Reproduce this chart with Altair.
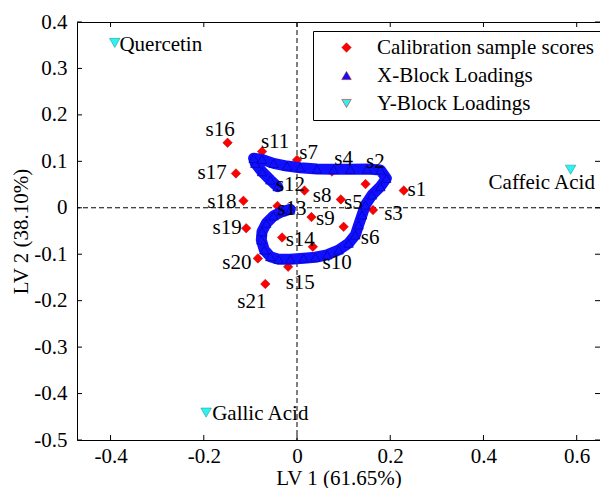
import altair as alt
import pandas as pd

# ---------------- data ----------------
sample_names = [f"s{i}" for i in range(1, 22)]
score_lv1 = [0.229, 0.147, 0.163, 0.075, 0.094, 0.100, 0.000, 0.016, 0.031, 0.034,
             -0.075, -0.042, -0.042, -0.032, -0.019, -0.149, -0.131, -0.115, -0.109, -0.084, -0.068]
score_lv2 = [0.037, 0.051, -0.005, 0.078, 0.018, -0.041, 0.103, 0.037, -0.020, -0.084,
             0.121, 0.047, 0.004, -0.064, -0.127, 0.140, 0.074, 0.015, -0.044, -0.109, -0.164]
label_lv1 = [0.257, 0.168, 0.207, 0.100, 0.121, 0.157, 0.025, 0.054, 0.061, 0.086,
             -0.047, -0.014, -0.011, 0.007, 0.007, -0.165, -0.182, -0.161, -0.150, -0.129, -0.097]
label_lv2 = [0.038, 0.099, -0.013, 0.106, 0.010, -0.066, 0.119, 0.025, -0.025, -0.119,
             0.142, 0.049, -0.003, -0.069, -0.162, 0.167, 0.074, 0.013, -0.044, -0.118, -0.202]

xload_lv1 = [-0.0416, -0.0573, -0.0751, -0.0895, -0.0931, -0.0751, -0.0502, -0.0215, 0.0071, 0.0429,
             0.0785, 0.1144, 0.1502, 0.1788, 0.1916, 0.1788, 0.1609, 0.1466, 0.1395, 0.1322,
             0.1251, 0.1107, 0.0893, 0.0644, 0.0393, 0.0142, -0.0144, -0.0395, -0.0573, -0.0702,
             -0.0766, -0.0751, -0.0659, -0.0502, -0.0322, -0.0144]
xload_lv2 = [0.0454, 0.0598, 0.0777, 0.0957, 0.1065, 0.1043, 0.0957, 0.0899, 0.0863, 0.0834,
             0.0827, 0.0827, 0.0834, 0.0813, 0.0634, 0.0454, 0.0275, 0.0060, -0.0155, -0.0370,
             -0.0585, -0.0763, -0.0908, -0.1015, -0.1065, -0.1086, -0.1108, -0.1108, -0.1052, -0.0908,
             -0.0692, -0.0514, -0.0333, -0.0176, -0.0084, -0.0032]

y_names = ["Quercetin", "Gallic Acid", "Caffeic Acid"]
yload_lv1 = [-0.391, -0.195, 0.587]
yload_lv2 = [0.355, -0.441, 0.082]
ylabel_lv1 = [-0.381, -0.182, 0.411]
ylabel_lv2 = [0.350, -0.443, 0.053]

series_names = ["Calibration sample scores", "X-Block Loadings", "Y-Block Loadings"]
x_ticks = [-0.4, -0.2, 0, 0.2, 0.4, 0.6]
y_ticks = [-0.5, -0.4, -0.3, -0.2, -0.1, 0, 0.1, 0.2, 0.3, 0.4]

# ---------------- tables ----------------
scores = pd.DataFrame({"x": score_lv1, "y": score_lv2, "series": series_names[0]})
score_labels = pd.DataFrame({"x": label_lv1, "y": label_lv2, "name": sample_names})
xload = pd.DataFrame({"x": xload_lv1, "y": xload_lv2, "series": series_names[1],
                      "i": list(range(len(xload_lv1)))})
yload = pd.DataFrame({"x": yload_lv1, "y": yload_lv2, "series": series_names[2]})
yload_labels = pd.DataFrame({"x": ylabel_lv1, "y": ylabel_lv2, "name": y_names})
xt = pd.DataFrame({"x": x_ticks})
yt = pd.DataFrame({"y": y_ticks})
zero_x = pd.DataFrame({"x": [0]})
zero_y = pd.DataFrame({"y": [0]})

W, H = 523, 418
FONT = "'Liberation Serif', 'Times New Roman', Times, serif"
FS = 21
TL = 5

lab_expr = ("datum.value == 0 ? '0' : (datum.value < 0 ? '-' + format(-datum.value, '.1f') "
            ": format(datum.value, '.1f'))")

xscale = alt.Scale(domain=[-0.472, 0.650], nice=False, zero=False)
yscale = alt.Scale(domain=[-0.5, 0.4], nice=False, zero=False)
X = alt.X("x:Q", scale=xscale,
          axis=alt.Axis(values=x_ticks, title="LV 1 (61.65%)", labelExpr=lab_expr,
                        labelPadding=5, titlePadding=1))
Y = alt.Y("y:Q", scale=yscale,
          axis=alt.Axis(values=y_ticks, title="LV 2 (38.10%)", labelExpr=lab_expr,
                        labelPadding=10, titlePadding=2))

legend = alt.Legend(orient="none", legendX=236, legendY=9, title=None,
                    strokeColor="black", fillColor="white", padding=6,
                    labelFont=FONT, labelFontSize=FS, labelLimit=400, labelColor="black",
                    symbolSize=90, symbolOffset=17, labelOffset=20, rowPadding=6,
                    cornerRadius=0, symbolStrokeWidth=0.5)
color = alt.Color("series:N", scale=alt.Scale(domain=series_names,
                                              range=["#ff0000", "#1010ff", "#33f0f0"]),
                  legend=legend)
shape = alt.Shape("series:N", scale=alt.Scale(domain=series_names,
                                              range=["diamond", "triangle-up", "triangle-down"]),
                  legend=legend)

zl_v = alt.Chart(zero_x).mark_rule(color="black", strokeDash=[5, 3], strokeWidth=1).encode(x=X)
zl_h = alt.Chart(zero_y).mark_rule(color="black", strokeDash=[5, 3], strokeWidth=1).encode(y=Y)

tick_b = alt.Chart(xt).mark_rule(color="black").encode(x=X, y=alt.value(H), y2=alt.value(H - TL))
tick_t = alt.Chart(xt).mark_rule(color="black").encode(x=X, y=alt.value(0), y2=alt.value(TL))
tick_l = alt.Chart(yt).mark_rule(color="black").encode(y=Y, x=alt.value(0), x2=alt.value(TL))
tick_r = alt.Chart(yt).mark_rule(color="black").encode(y=Y, x=alt.value(W), x2=alt.value(W - TL))

pts_scores = alt.Chart(scores).mark_point(filled=True, size=90, opacity=1,
                                          stroke="#b00000", strokeWidth=0.5).encode(
    x=X, y=Y, color=color, shape=shape)

band = alt.Chart(xload).mark_line(color="#1010ff", strokeWidth=11, strokeJoin="round",
                                  strokeCap="round").encode(x=X, y=Y, order="i:Q")
pts_x = alt.Chart(xload).mark_point(filled=True, size=90, opacity=1,
                                    stroke="#0000a0", strokeWidth=0.6).encode(
    x=X, y=Y, color=color, shape=shape)

pts_y = alt.Chart(yload).mark_point(filled=True, size=110, opacity=1,
                                    stroke="#1aa0a0", strokeWidth=0.6).encode(
    x=X, y=Y, color=color, shape=shape)

txt_s = alt.Chart(score_labels).mark_text(font=FONT, fontSize=FS, color="black",
                                          align="center", baseline="middle").encode(
    x=X, y=Y, text="name:N")
txt_y = alt.Chart(yload_labels).mark_text(font=FONT, fontSize=FS, color="black",
                                          align="left", baseline="middle").encode(
    x=X, y=Y, text="name:N")

chart = alt.layer(
    zl_v, zl_h, tick_b, tick_t, tick_l, tick_r,
    pts_scores, band, pts_x, pts_y, txt_s, txt_y
).properties(
    width=W, height=H,
    autosize=alt.AutoSizeParams(type="none"),
    padding={"left": 69, "top": 14, "right": 0, "bottom": 48},
    background="white",
).configure_view(
    stroke="black", strokeWidth=1
).configure_axis(
    labelFont=FONT, titleFont=FONT, labelFontSize=FS, titleFontSize=FS,
    titleFontWeight="normal", labelColor="black", titleColor="black",
    tickSize=0, domain=False, grid=False
).configure_legend(
    labelFont=FONT
).configure_text(
    font=FONT
)

chart.save("out.html", embed_options={"renderer": "svg", "actions": False})
